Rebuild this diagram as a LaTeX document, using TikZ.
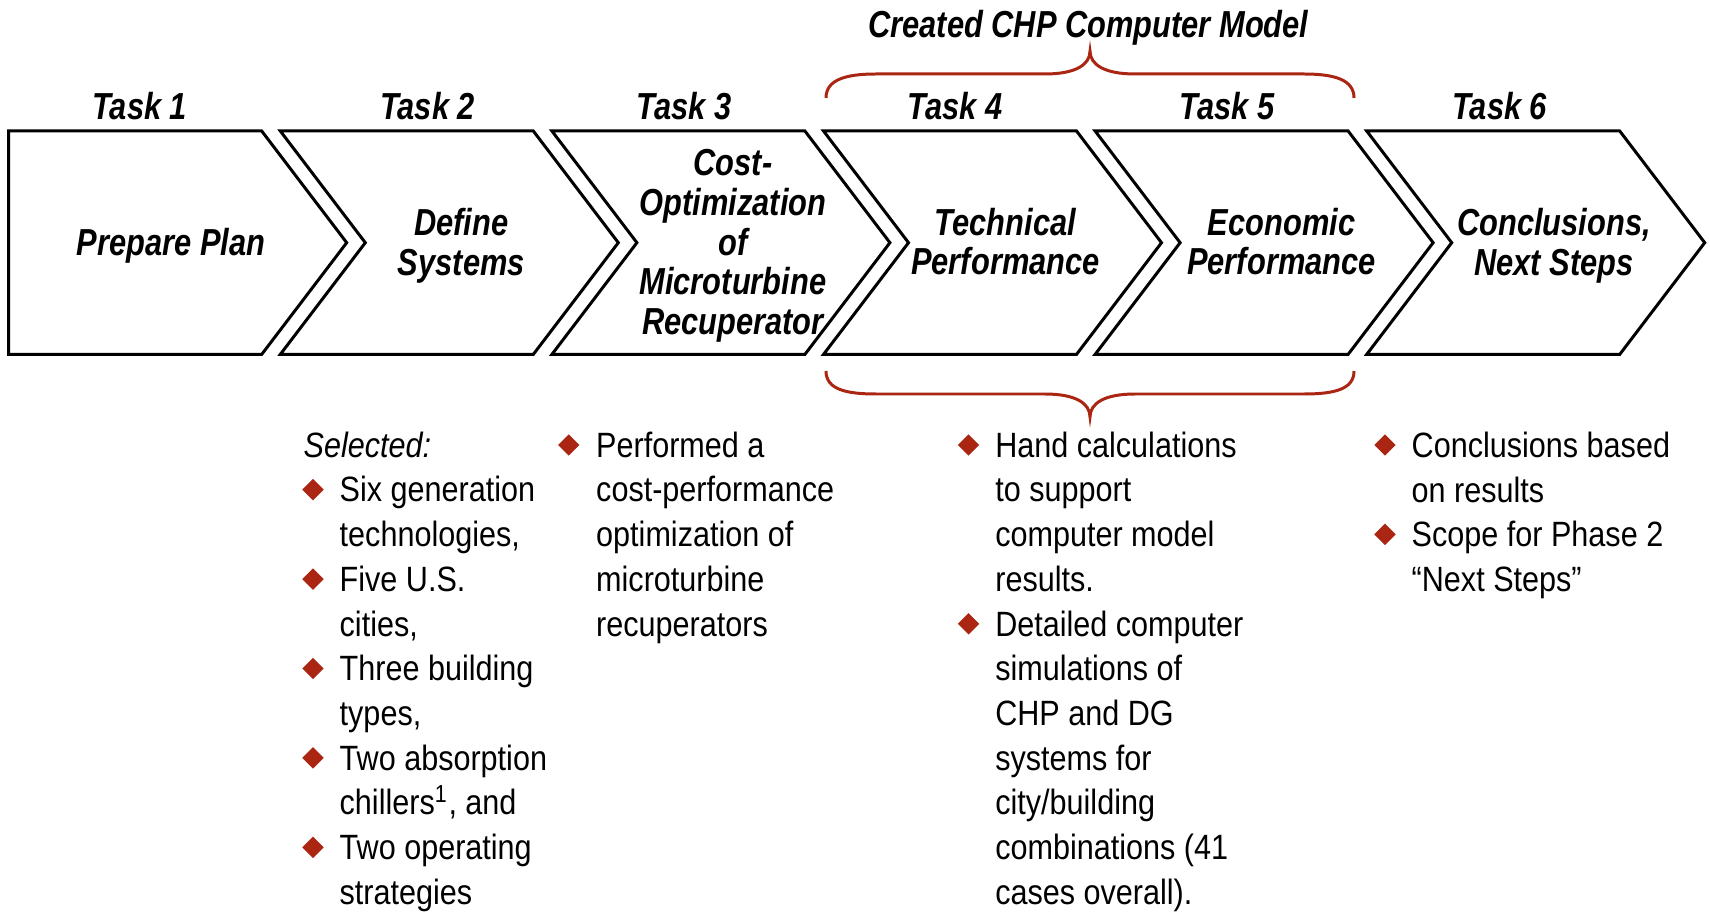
\documentclass[tikz,border=0pt]{standalone}
\usepackage{fontspec}
\usepackage{tikz}
\usetikzlibrary{shapes.geometric}
\newfontfamily\headfont{Liberation Sans}[FakeStretch=0.82]
\newfontfamily\listfont{Liberation Sans}[FakeStretch=0.87]
\definecolor{bracered}{RGB}{170,38,18}

\begin{document}
\begin{tikzpicture}[
    chev/.style={draw=black, line width=0.85pt},
    task/.style={font=\headfont\bfseries\itshape\fontsize{10.7}{11.3}\selectfont, inner sep=0pt},
    title/.style={font=\headfont\bfseries\itshape\fontsize{10.7}{11.3}\selectfont, align=center, inner sep=0pt},
    item/.style={font=\listfont\fontsize{10}{12.72}\selectfont, align=left, anchor=base west, inner sep=0pt},
    bullet/.style={diamond, fill=bracered, inner sep=0pt, minimum width=0.22cm, minimum height=0.22cm},
    curly/.style={draw=bracered, line width=0.85pt}
]
    \useasboundingbox (0,0) rectangle (17.1,9.12);

    % chevrons
    \draw[chev] (0.087,7.81) -- (2.617,7.81) -- (3.467,6.693) -- (2.617,5.576) -- (0.087,5.576) -- cycle;
    \draw[chev] (2.803,7.81) -- (5.333,7.81) -- (6.183,6.693) -- (5.333,5.576) -- (2.803,5.576) -- (3.653,6.693) -- cycle;
    \draw[chev] (5.519,7.81) -- (8.049,7.81) -- (8.899,6.693) -- (8.049,5.576) -- (5.519,5.576) -- (6.369,6.693) -- cycle;
    \draw[chev] (8.235,7.81) -- (10.765,7.81) -- (11.615,6.693) -- (10.765,5.576) -- (8.235,5.576) -- (9.085,6.693) -- cycle;
    \draw[chev] (10.951,7.81) -- (13.481,7.81) -- (14.331,6.693) -- (13.481,5.576) -- (10.951,5.576) -- (11.801,6.693) -- cycle;
    \draw[chev] (13.667,7.81) -- (16.197,7.81) -- (17.047,6.693) -- (16.197,5.576) -- (13.667,5.576) -- (14.517,6.693) -- cycle;

    \node[task] (task1) at (1.396,8.062) {Task 1};
    \node[task] (task2) at (4.275,8.062) {Task 2};
    \node[task] (task3) at (6.838,8.062) {Task 3};
    \node[task] (task4) at (9.554,8.062) {Task 4};
    \node[task] (task5) at (12.27,8.062) {Task 5};
    \node[task] (task6) at (14.996,8.062) {Task 6};

    \node[title] (plan) at (1.71,6.66) {Prepare Plan};
    \node[title] (define) at (4.613,6.66) {Define\\Systems};
    \node[title] (costopt) at (7.329,6.66) {Cost-\\Optimization\\of\\Microturbine\\Recuperator};
    \node[title] (technical) at (10.055,6.704) {Technical\\Performance};
    \node[title] (economic) at (12.815,6.704) {Economic\\Performance};
    \node[title] (conclude) at (15.54,6.66) {Conclusions,\\Next Steps};

    % braces round tasks 4 and 5
    \node[task] (model) at (10.884,8.84) {Created CHP Computer Model};
    \draw[curly] (8.26,8.14) .. controls (8.26,8.32) and (8.45,8.38) .. (8.76,8.38) -- (10.45,8.38)
        .. controls (10.75,8.38) and (10.90,8.47) .. (10.90,8.61)
        .. controls (10.90,8.47) and (11.05,8.38) .. (11.35,8.38) -- (13.04,8.38)
        .. controls (13.35,8.38) and (13.54,8.32) .. (13.54,8.14);
    \draw[curly] (8.26,5.41) .. controls (8.26,5.23) and (8.45,5.18) .. (8.76,5.18) -- (10.45,5.18)
        .. controls (10.75,5.18) and (10.90,5.09) .. (10.90,4.95)
        .. controls (10.90,5.09) and (11.05,5.18) .. (11.35,5.18) -- (13.04,5.18)
        .. controls (13.35,5.18) and (13.54,5.23) .. (13.54,5.41);

    % task 2 list (base = last line)
    \node[item] (selected) at (3.03,4.547) {\itshape Selected:};
    \node[bullet] (b21) at (3.13,4.223) {};
    \node[item] (six) at (3.39,3.653) {Six generation\\technologies,};
    \node[bullet] (b22) at (3.13,3.329) {};
    \node[item] (five) at (3.39,2.759) {Five U.S.\\cities,};
    \node[bullet] (b23) at (3.13,2.435) {};
    \node[item] (three) at (3.39,1.865) {Three building\\types,};
    \node[bullet] (b24) at (3.13,1.541) {};
    \node[item] (absorb) at (3.39,0.971) {Two absorption\\chillers\textsuperscript{1}, and};
    \node[bullet] (b25) at (3.13,0.647) {};
    \node[item] (operate) at (3.39,0.077) {Two operating\\strategies};

    % task 3 list
    \node[bullet] (b31) at (5.687,4.670) {};
    \node[item] (perform) at (5.955,2.759) {Performed a\\cost-performance\\optimization of\\microturbine\\recuperators};

    % task 4/5 list
    \node[bullet] (b41) at (9.685,4.670) {};
    \node[item] (hand) at (9.946,3.206) {Hand calculations\\to support\\computer model\\results.};
    \node[bullet] (b42) at (9.685,2.882) {};
    \node[item] (detail) at (9.946,0.077) {Detailed computer\\simulations of\\CHP and DG\\systems for\\city/building\\combinations (41\\cases overall).};

    % task 6 list
    \node[bullet] (b61) at (13.85,4.670) {};
    \node[item] (based) at (14.11,4.100) {Conclusions based\\on results};
    \node[bullet] (b62) at (13.85,3.776) {};
    \node[item] (scope) at (14.11,3.206) {Scope for Phase 2\\“Next Steps”};
\end{tikzpicture}
\end{document}
